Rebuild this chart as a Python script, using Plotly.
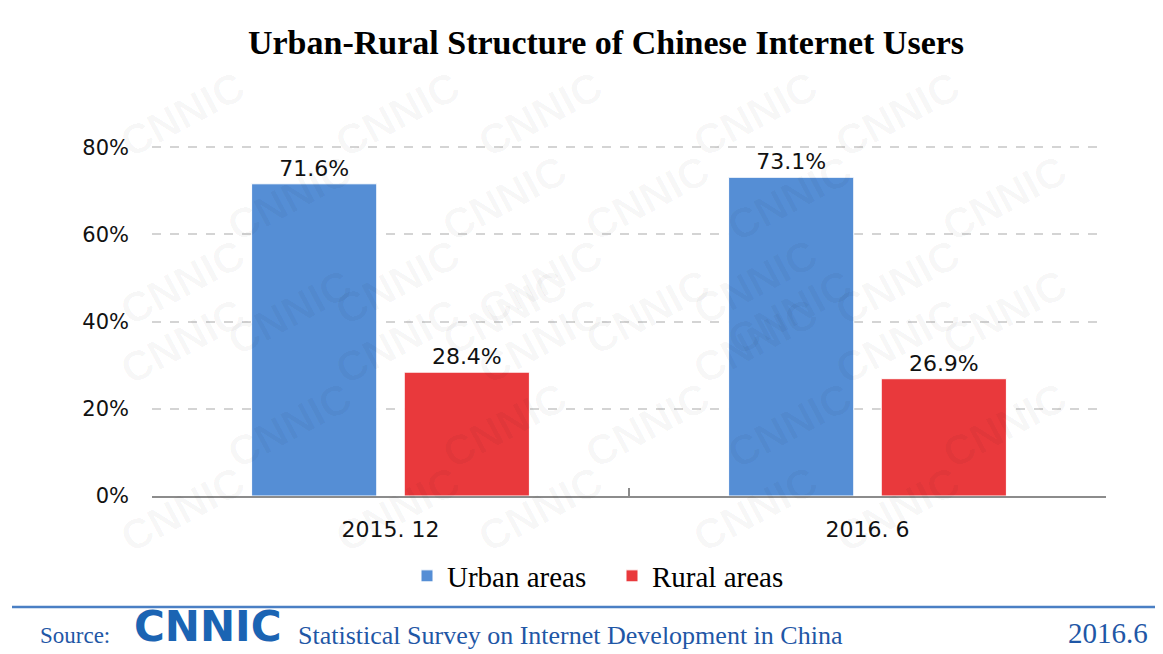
import plotly.graph_objects as go

# data
periods = ["2015. 12", "2016. 6"]
urban = [71.6, 73.1]
rural = [28.4, 26.9]
series_names = ["Urban areas", "Rural areas"]
y_ticks = [0, 20, 40, 60, 80]

# page has an 8px body margin, so the figure is drawn 8px in from the corner
OFF = 8
W, H = 1163 - OFF, 654 - OFF
L, R, T, B = 152, 1106, 145, 496   # plot area in page pixels

BLUE_TXT = "#1f57a6"
SERIF = "Liberation Serif, Times New Roman, serif"
NUM = "DejaVu Sans, Arial, sans-serif"
SANS = "Liberation Sans, Arial, sans-serif"


def px(x, y):
    """page pixel -> paper coords"""
    return (x - L) / (R - L), (B - y) / (B - T)


fig = go.Figure()
for name, vals, col in [(series_names[0], urban, "#558ed5"),
                        (series_names[1], rural, "#e9393c")]:
    fig.add_trace(go.Bar(
        x=periods, y=vals, name=name,
        marker=dict(color=col, line=dict(color="white", width=1)),
        text=[f"{v:.1f}%" for v in vals],
        textposition="outside",
        textfont=dict(family=NUM, size=22, color="#111"),
        cliponaxis=False,
    ))

# faint CNNIC watermark
ann = []
for row in range(7):
    for col in range(5):
        cx = col * 215 + (row % 2) * 107 + 110
        cy = row * 84 + 60
        ax, ay = px(cx, cy)
        ann.append(dict(x=ax, y=ay, xref="paper", yref="paper", text="<b>CNNIC</b>",
                        showarrow=False, textangle=-28,
                        font=dict(family=SANS, size=42, color="rgba(0,0,0,0.03)")))

# footer
fx, fy = px(38, 635)
ann.append(dict(x=fx, y=fy, xref="paper", yref="paper", text="Source:", showarrow=False,
                xanchor="left", yanchor="middle", font=dict(family=SERIF, size=23, color=BLUE_TXT)))
fx, fy = px(132, 653)
ann.append(dict(x=fx, y=fy, xref="paper", yref="paper", text="<b>CNNIC</b>", showarrow=False,
                xanchor="left", yanchor="bottom", font=dict(family=NUM, size=42, color="#1b64b3")))
fx, fy = px(296, 635)
ann.append(dict(x=fx, y=fy, xref="paper", yref="paper",
                text="Statistical Survey on Internet Development in China", showarrow=False,
                xanchor="left", yanchor="middle", font=dict(family=SERIF, size=26, color=BLUE_TXT)))
fx, fy = px(1150, 633)
ann.append(dict(x=fx, y=fy, xref="paper", yref="paper", text="2016.6", showarrow=False,
                xanchor="right", yanchor="middle", font=dict(family=SERIF, size=29, color=BLUE_TXT)))

x0, y0 = px(12, 607)
x1, _ = px(1163, 607)

fig.update_layout(
    width=W, height=H,
    margin=dict(l=L - OFF, r=1163 - R, t=T - OFF, b=654 - B, pad=0),
    paper_bgcolor="white", plot_bgcolor="rgba(0,0,0,0)",
    title=dict(text="<b>Urban-Rural Structure of Chinese Internet Users</b>",
               x=(606 - OFF) / W, xanchor="center", y=1 - (42 - OFF) / H, yanchor="middle",
               font=dict(family=SERIF, size=34, color="#000")),
    barmode="group", bargap=0.36, bargroupgap=0.18,
    showlegend=True,
    legend=dict(orientation="h", x=px(612, 0)[0], xanchor="center",
                y=px(0, 576)[1], yanchor="middle",
                font=dict(family=SERIF, size=29, color="#000"),
                itemwidth=30, entrywidth=160, entrywidthmode="pixels",
                tracegroupgap=0, bgcolor="rgba(0,0,0,0)"),
    annotations=ann,
    shapes=[dict(type="line", xref="paper", yref="paper", x0=x0, x1=x1, y0=y0, y1=y0,
                 line=dict(color="#4a7fc4", width=2.5))],
)
fig.update_xaxes(
    showline=True, linecolor="#8c8c8c", linewidth=2,
    ticks="inside", tickson="boundaries", ticklen=8, tickcolor="#8c8c8c", tickwidth=2,
    tickfont=dict(family=NUM, size=22, color="#111"), ticklabelstandoff=13,
    showgrid=False,
)
fig.update_yaxes(
    range=[0, 80.5], tickvals=y_ticks, ticktext=[f"{v}%" for v in y_ticks],
    tickfont=dict(family=NUM, size=21, color="#111"), ticklabelstandoff=22,
    showgrid=True, gridcolor="#d4d4d4", gridwidth=2, griddash="dash",
    zeroline=False, showline=False,
)

fig.write_html("out.html")
